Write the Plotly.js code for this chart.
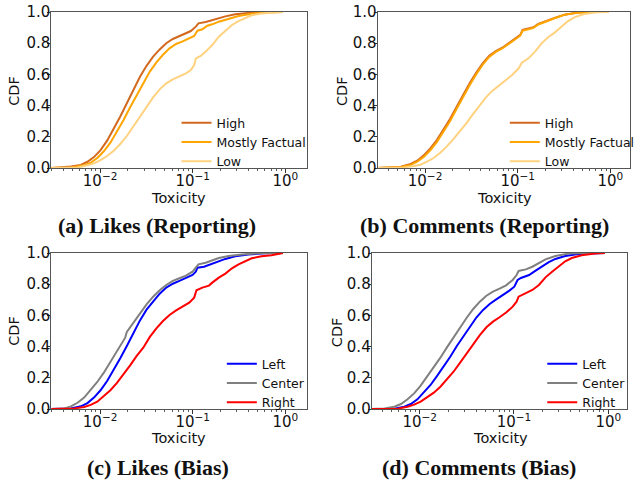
<!DOCTYPE html>
<html>
<head>
<meta charset="utf-8">
<script src="https://cdn.plot.ly/plotly-3.0.1.min.js"></script>
<style>html,body{margin:0;padding:0;background:#fff;} #chart{width:640px;height:482px;}</style>
</head>
<body>
<div id="chart"></div>
<script>
// ---------- Tick labels, titles & captions ----------
const xTickVals = [0.01, 0.1, 1];
const xTickText = ['10<sup>\u22122</sup>', '10<sup>\u22121</sup>', '10<sup>0</sup>'];
const yTickVals = [0, 0.2, 0.4, 0.6, 0.8, 1.0];
const yTickText = ['0.0', '0.2', '0.4', '0.6', '0.8', '1.0'];
const xTitle = 'Toxicity';
const yTitle = 'CDF';
const captions = ['(a) Likes (Reporting)', '(b) Comments (Reporting)', '(c) Likes (Bias)', '(d) Comments (Bias)'];
const reportingNames = ['High', 'Mostly Factual', 'Low'];
const biasNames = ['Left', 'Center', 'Right'];

// ---------- (a) Likes (Reporting) ----------
const likesRepHighX = [0.00297,0.00485,0.0062,0.0073,0.00859,0.01011,0.01191,0.01402,0.01651,0.01943,0.02288,0.02694,0.03172,0.03735,0.04397,0.05177,0.06095,0.07176,0.08448,0.09548,0.1079,0.1152,0.1379,0.1624,0.1911,0.225,0.2875,0.3986,0.5995,0.94];
const likesRepHighY = [0,0.01,0.02,0.04,0.07,0.115,0.175,0.25,0.33,0.415,0.505,0.585,0.655,0.714,0.76,0.80,0.827,0.846,0.861,0.878,0.906,0.927,0.936,0.949,0.962,0.972,0.985,0.994,0.998,1.0];
const likesRepMostlyX = [0.00297,0.00485,0.00673,0.00792,0.00932,0.01097,0.01292,0.01521,0.01791,0.02109,0.02483,0.02923,0.03442,0.04052,0.04771,0.05617,0.06613,0.07786,0.09167,0.1036,0.1124,0.127,0.1436,0.1624,0.1911,0.2442,0.312,0.4325,0.6505,0.94];
const likesRepMostlyY = [0,0.004,0.017,0.034,0.064,0.107,0.162,0.231,0.308,0.389,0.468,0.547,0.618,0.677,0.726,0.767,0.795,0.812,0.831,0.846,0.88,0.889,0.912,0.921,0.938,0.957,0.974,0.989,0.998,1.0];
const likesRepLowX = [0.00297,0.00571,0.0073,0.00859,0.01011,0.01191,0.01402,0.01651,0.01943,0.02288,0.02694,0.03172,0.03735,0.04397,0.05177,0.06095,0.07176,0.08448,0.09548,0.1036,0.1079,0.122,0.1379,0.1624,0.1911,0.225,0.265,0.312,0.3674,0.4325,0.5525,0.7658,0.94];
const likesRepLowY = [0,0.004,0.017,0.03,0.051,0.077,0.111,0.154,0.205,0.265,0.329,0.393,0.453,0.504,0.543,0.568,0.585,0.607,0.628,0.66,0.703,0.718,0.746,0.788,0.842,0.88,0.917,0.942,0.962,0.979,0.991,0.998,1.0];

// ---------- (b) Comments (Reporting) ----------
const commRepHighX = [0.003,0.0043,0.00548,0.007,0.00823,0.00968,0.0114,0.0134,0.0158,0.0186,0.0218,0.0257,0.0303,0.0356,0.0419,0.0493,0.058,0.0682,0.0803,0.0945,0.1067,0.1129,0.1309,0.1479,0.167,0.1965,0.2508,0.3201,0.4433,0.6654,0.95];
const commRepHighY = [0,0.004,0.008,0.026,0.047,0.081,0.126,0.179,0.244,0.314,0.389,0.468,0.543,0.611,0.671,0.72,0.75,0.771,0.799,0.831,0.853,0.885,0.893,0.902,0.923,0.94,0.962,0.983,0.996,1.0,1.0];
const commRepMostlyX = [0.003,0.0043,0.00548,0.007,0.00823,0.00968,0.0114,0.0134,0.0158,0.0186,0.0218,0.0257,0.0303,0.0356,0.0419,0.0493,0.058,0.0682,0.0803,0.0945,0.1067,0.1129,0.1309,0.1479,0.167,0.1965,0.2508,0.3201,0.4433,0.6654,0.95];
const commRepMostlyY = [0,0.003,0.006,0.02,0.04,0.071,0.114,0.166,0.23,0.3,0.376,0.455,0.531,0.6,0.662,0.712,0.744,0.766,0.793,0.825,0.848,0.88,0.889,0.899,0.92,0.938,0.96,0.982,0.995,1.0,1.0];
const commRepLowX = [0.003,0.00594,0.00759,0.00893,0.0105,0.0124,0.0146,0.0171,0.0201,0.0237,0.0279,0.0328,0.0386,0.0454,0.0535,0.0629,0.074,0.0871,0.1025,0.1111,0.1309,0.154,0.1812,0.2132,0.2508,0.2951,0.3473,0.4086,0.5215,0.7219,0.95];
const commRepLowY = [0,0.004,0.013,0.021,0.041,0.064,0.098,0.137,0.184,0.233,0.286,0.344,0.4,0.453,0.496,0.528,0.56,0.596,0.639,0.675,0.703,0.746,0.799,0.838,0.868,0.906,0.94,0.966,0.987,0.998,1.0];

// ---------- (c) Likes (Bias) ----------
const likesBiasLeftX = [0.00297,0.00485,0.0062,0.0073,0.00859,0.01011,0.01191,0.01402,0.01651,0.01943,0.02288,0.02694,0.03172,0.03735,0.04397,0.05177,0.06095,0.07176,0.08448,0.09947,0.1079,0.1124,0.1323,0.1496,0.1762,0.225,0.2875,0.3986,0.5995,0.94];
const likesBiasLeftY = [0,0.004,0.017,0.038,0.073,0.12,0.179,0.248,0.325,0.404,0.489,0.568,0.637,0.692,0.739,0.778,0.803,0.821,0.838,0.859,0.88,0.906,0.912,0.923,0.942,0.962,0.979,0.991,0.998,1.0];
const likesBiasCenterX = [0.00297,0.00412,0.00485,0.00571,0.00673,0.00792,0.00932,0.01097,0.01292,0.01521,0.01719,0.01866,0.01943,0.02288,0.02694,0.03172,0.03735,0.04397,0.05177,0.06095,0.07176,0.08448,0.09947,0.1079,0.1152,0.1379,0.1624,0.1911,0.2442,0.3386,0.5093,0.94];
const likesBiasCenterY = [0,0.004,0.017,0.04,0.073,0.12,0.173,0.233,0.303,0.376,0.425,0.457,0.494,0.553,0.618,0.671,0.72,0.761,0.795,0.821,0.838,0.855,0.88,0.91,0.927,0.938,0.953,0.968,0.981,0.991,0.998,1.0];
const likesBiasRightX = [0.00297,0.00526,0.00673,0.00792,0.00932,0.01097,0.01292,0.01521,0.01791,0.02109,0.02483,0.02923,0.03442,0.04052,0.04771,0.05617,0.06613,0.07786,0.09167,0.1036,0.1097,0.127,0.1496,0.1624,0.1911,0.225,0.265,0.312,0.3674,0.4325,0.5525,0.7058,0.8309,0.94];
const likesBiasRightY = [0,0.004,0.013,0.026,0.047,0.081,0.12,0.167,0.222,0.28,0.34,0.393,0.462,0.517,0.564,0.603,0.632,0.656,0.682,0.714,0.761,0.778,0.791,0.81,0.842,0.868,0.902,0.927,0.949,0.966,0.979,0.985,0.994,1.0];

// ---------- (d) Comments (Bias) ----------
const commBiasLeftX = [0.003,0.00539,0.00686,0.00805,0.00946,0.0111,0.01303,0.0153,0.01796,0.02109,0.02476,0.02907,0.03413,0.04007,0.04705,0.05524,0.06485,0.07614,0.08939,0.1008,0.1092,0.1184,0.1445,0.1697,0.1993,0.234,0.2747,0.3495,0.4818,0.7798,0.92];
const commBiasLeftY = [0,0.002,0.015,0.032,0.062,0.105,0.154,0.212,0.271,0.335,0.404,0.468,0.532,0.588,0.635,0.673,0.703,0.729,0.759,0.784,0.827,0.84,0.859,0.887,0.917,0.942,0.962,0.981,0.994,1.0,1.0];
const commBiasCenterX = [0.003,0.00424,0.00539,0.00633,0.00743,0.00873,0.01024,0.01202,0.01412,0.01658,0.01946,0.02285,0.02683,0.0315,0.03698,0.04342,0.05098,0.05985,0.07027,0.0825,0.09686,0.1066,0.1119,0.1334,0.1566,0.1839,0.2159,0.2747,0.3787,0.5657,0.92];
const commBiasCenterY = [0,0.004,0.015,0.032,0.062,0.1,0.15,0.207,0.265,0.329,0.395,0.459,0.524,0.585,0.641,0.688,0.726,0.752,0.771,0.793,0.827,0.859,0.885,0.895,0.912,0.938,0.959,0.981,0.996,1.0,1.0];
const commBiasRightX = [0.003,0.00585,0.00743,0.00873,0.01024,0.01202,0.01412,0.01658,0.01946,0.02285,0.02683,0.0315,0.03698,0.04342,0.05098,0.05985,0.07027,0.0825,0.09686,0.1066,0.1119,0.1334,0.1566,0.1839,0.2159,0.2535,0.2977,0.3495,0.4104,0.522,0.7197,0.92];
const commBiasRightY = [0,0.002,0.015,0.028,0.047,0.075,0.105,0.143,0.19,0.239,0.297,0.357,0.417,0.474,0.524,0.56,0.588,0.618,0.656,0.688,0.72,0.741,0.763,0.795,0.844,0.88,0.912,0.947,0.968,0.985,0.996,1.0];

// ---------- Styling ----------
const reportingColors = ['#d2691e', '#ffa500', '#ffd27f'];
const biasColors = ['#0000ff', '#808080', '#ff0000'];
const FONT = 'DejaVu Sans, sans-serif';
const LW = 2;

function tr(x, y, name, color, xa, ya, leg) {
  return {x: x, y: y, name: name, type: 'scatter', mode: 'lines',
    line: {color: color, width: LW}, xaxis: xa, yaxis: ya, legend: leg, hoverinfo: 'skip'};
}

const traces = [
  tr(likesRepHighX, likesRepHighY, reportingNames[0], reportingColors[0], 'x', 'y', 'legend'),
  tr(likesRepMostlyX, likesRepMostlyY, reportingNames[1], reportingColors[1], 'x', 'y', 'legend'),
  tr(likesRepLowX, likesRepLowY, reportingNames[2], reportingColors[2], 'x', 'y', 'legend'),
  tr(commRepHighX, commRepHighY, reportingNames[0], reportingColors[0], 'x2', 'y2', 'legend2'),
  tr(commRepMostlyX, commRepMostlyY, reportingNames[1], reportingColors[1], 'x2', 'y2', 'legend2'),
  tr(commRepLowX, commRepLowY, reportingNames[2], reportingColors[2], 'x2', 'y2', 'legend2'),
  tr(likesBiasLeftX, likesBiasLeftY, biasNames[0], biasColors[0], 'x3', 'y3', 'legend3'),
  tr(likesBiasCenterX, likesBiasCenterY, biasNames[1], biasColors[1], 'x3', 'y3', 'legend3'),
  tr(likesBiasRightX, likesBiasRightY, biasNames[2], biasColors[2], 'x3', 'y3', 'legend3'),
  tr(commBiasLeftX, commBiasLeftY, biasNames[0], biasColors[0], 'x4', 'y4', 'legend4'),
  tr(commBiasCenterX, commBiasCenterY, biasNames[1], biasColors[1], 'x4', 'y4', 'legend4'),
  tr(commBiasRightX, commBiasRightY, biasNames[2], biasColors[2], 'x4', 'y4', 'legend4')
];

const W = 640, H = 482;
function px(v) { return v / W; }
function py(v) { return (H - v) / H; }

function xax(l, r, range, anchor) {
  return {type: 'log', domain: [px(l), px(r)], range: range, anchor: anchor,
    tickmode: 'array', tickvals: xTickVals, ticktext: xTickText,
    ticks: 'outside', ticklen: 4, tickwidth: 1, tickcolor: '#333', ticklabelstandoff: -5,
    minor: {ticks: 'outside', ticklen: 2, tickwidth: 0.8, tickcolor: '#333', dtick: 'D1', showgrid: false},
    showline: true, linecolor: '#555', linewidth: 1, mirror: true, showgrid: false, zeroline: false,
    tickfont: {family: FONT, size: 15, color: '#111'},
    automargin: false, fixedrange: true};
}
function yax(t, b, anchor) {
  return {domain: [py(b), py(t)], range: [0, 1], anchor: anchor,
    tickmode: 'array', tickvals: yTickVals, ticktext: yTickText,
    ticks: 'outside', ticklen: 3, tickwidth: 1, tickcolor: '#333', ticklabelstandoff: -6,
    showline: true, linecolor: '#555', linewidth: 1, mirror: true, showgrid: false, zeroline: false,
    tickfont: {family: FONT, size: 15, color: '#111'},
    automargin: false, fixedrange: true};
}
function leg(xLeft, yMid) {
  return {x: px(xLeft), xanchor: 'left', y: py(yMid), yanchor: 'middle',
    bgcolor: 'rgba(0,0,0,0)', borderwidth: 0, font: {family: FONT, size: 12.5, color: '#111'},
    itemclick: false, itemdoubleclick: false};
}

const titleFont = {family: FONT, size: 14.5, color: '#111'};
function txt(text, cx, cy, rot) {
  return {text: text, x: px(cx), y: py(cy), xref: 'paper', yref: 'paper',
    xanchor: 'center', yanchor: 'middle', showarrow: false, font: titleFont, textangle: rot || 0};
}
const capFont = {family: 'Liberation Serif, serif', size: 22, color: '#111'};
function cap(text, cx, cy) {
  return {text: '<b>' + text + '</b>', x: px(cx), y: py(cy), xref: 'paper', yref: 'paper',
    xanchor: 'center', yanchor: 'middle', showarrow: false, font: capFont};
}

const layout = {
  width: W, height: H, margin: {l: 0, r: 0, t: 0, b: 0},
  paper_bgcolor: '#fff', plot_bgcolor: '#fff', showlegend: true,
  xaxis: xax(52, 311, [-2.527, 0.229], 'y'),
  yaxis: yax(12, 168, 'x'),
  xaxis2: xax(383, 639, [-2.512, 0.213], 'y2'),
  yaxis2: yax(12, 168, 'x2'),
  xaxis3: xax(52, 311, [-2.527, 0.229], 'y3'),
  yaxis3: yax(253, 409, 'x3'),
  xaxis4: xax(377, 636, [-2.509, 0.199], 'y4'),
  yaxis4: yax(253, 409, 'x4'),
  legend: leg(179, 142),
  legend2: leg(512, 142),
  legend3: leg(225, 383),
  legend4: leg(550, 383),
  annotations: [
    txt(xTitle, 181.5, 198), txt(xTitle, 512, 198), txt(xTitle, 181.5, 438), txt(xTitle, 507.5, 438),
    txt(yTitle, 14, 91, -90), txt(yTitle, 347, 91, -90), txt(yTitle, 14, 331, -90), txt(yTitle, 342, 332, -90),
    cap(captions[0], 159, 225),
    cap(captions[1], 491, 225),
    cap(captions[2], 160, 467),
    cap(captions[3], 486, 467)
  ]
};

Plotly.newPlot('chart', traces, layout, {staticPlot: true, displayModeBar: false});
</script>
</body>
</html>
